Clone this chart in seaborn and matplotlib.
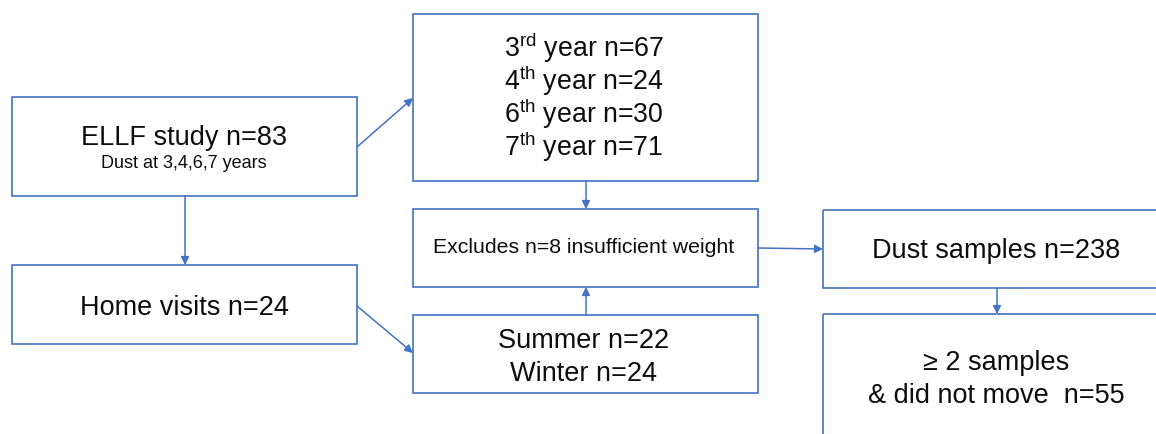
import matplotlib
matplotlib.use("Agg")
import matplotlib.pyplot as plt
from matplotlib.patches import Rectangle
import seaborn as sns

# ---- content (text / values) ----
study_n = 83
study_sub = "Dust at 3,4,6,7 years"
years = ["3", "4", "6", "7"]
year_suffix = ["rd", "th", "th", "th"]
year_n = [67, 24, 30, 71]
home_n = 24
seasons = ["Summer", "Winter"]
season_n = [22, 24]
excluded_n = 8
dust_n = 238
final_n = 55

sns.set_theme(style="white")
plt.rcParams["font.family"] = ["Liberation Sans", "DejaVu Sans"]
plt.rcParams["mathtext.fontset"] = "custom"
plt.rcParams["mathtext.rm"] = "Liberation Sans"
plt.rcParams["mathtext.it"] = "Liberation Sans"

W, H = 1156, 434
fig = plt.figure(figsize=(W / 100, H / 100), dpi=100)
ax = fig.add_axes([0, 0, 1, 1])
ax.set_xlim(0, W)
ax.set_ylim(H, 0)
ax.axis("off")

blue = "#4472C4"

def box(x0, y0, x1, y1):
    ax.add_patch(Rectangle((x0, y0), x1 - x0, y1 - y0, fill=False,
                           edgecolor=blue, lw=1.2, clip_on=True))

def arrow(p0, p1):
    ax.annotate("", xy=p1, xytext=p0,
                arrowprops=dict(arrowstyle="-|>", color=blue, lw=1.1,
                                mutation_scale=12, shrinkA=0, shrinkB=0))

def txt(x, y, s, size):
    ax.text(x, y, s, ha="center", va="baseline", fontsize=size, color="#0d0d0d")

# boxes
box(12, 97, 357, 196)      # ELLF
box(12, 265, 357, 344)     # home visits
box(413, 14, 758, 181)     # years
box(413, 209, 758, 287)    # excludes
box(413, 315, 758, 393)    # seasons
box(823, 210, 1170, 288)   # dust samples
box(823, 314, 1170, 450)   # final

# arrows
arrow((357, 147), (413, 98))
arrow((185, 196), (185, 265))
arrow((357, 306), (413, 353))
arrow((586, 181), (586, 209))
arrow((586, 315), (586, 287))
arrow((758, 248), (823, 249))
arrow((997, 288), (997, 314))

# texts
txt(184, 145, f"ELLF study n={study_n}", 19.5)
txt(184, 168, study_sub, 13)
for i, (y, suf, n) in enumerate(zip(years, year_suffix, year_n)):
    txt(584, 57 + 33 * i, f"{y}$^{{\\mathrm{{{suf}}}}}$ year n={n}", 19.3)
txt(584, 253, f"Excludes n={excluded_n} insufficient weight", 15.3)
txt(184, 315, f"Home visits n={home_n}", 19.5)
for i, (s, n) in enumerate(zip(seasons, season_n)):
    txt(584, 348 + 33 * i, f"{s} n={n}", 19.5)
txt(996, 258, f"Dust samples n={dust_n}", 19.5)
txt(996, 370, "\u2265 2 samples", 19.5)
txt(996, 403, f"& did not move  n={final_n}", 19.5)

fig.savefig("out.png", dpi=100)
